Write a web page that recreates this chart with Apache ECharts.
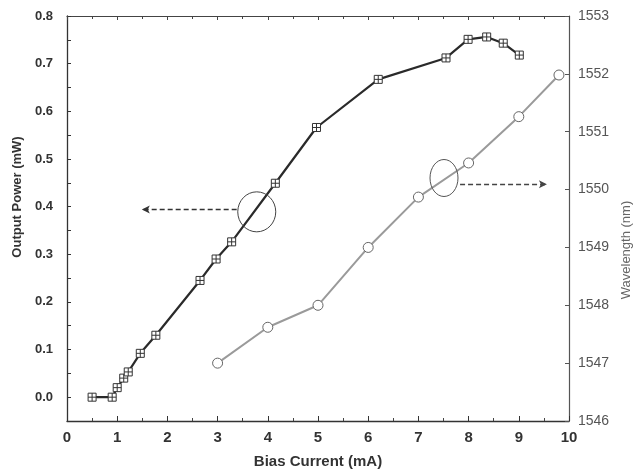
<!DOCTYPE html>
<html><head><meta charset="utf-8">
<script src="https://cdn.jsdelivr.net/npm/echarts@6/dist/echarts.min.js"></script>
<style>html,body{margin:0;padding:0;background:#fff}#c{width:639px;height:472px}</style>
</head><body><div id="c"></div>
<script>
// Output power vs bias current (left axis)
const powerCurrent = [0.5, 0.9, 1.0, 1.13, 1.22, 1.46, 1.77, 2.65, 2.97, 3.28, 4.15, 4.97, 6.2, 7.55, 7.99, 8.36, 8.69, 9.01];
const powerValues  = [0.0, 0.0, 0.02, 0.04, 0.053, 0.092, 0.13, 0.245, 0.29, 0.326, 0.449, 0.566, 0.667, 0.712, 0.751, 0.756, 0.743, 0.718];
// Wavelength vs bias current (right axis)
const wlCurrent = [3, 4, 5, 6, 7, 8, 9, 9.8];
const wlValues  = [1547.0, 1547.62, 1548.0, 1549.0, 1549.87, 1550.46, 1551.26, 1551.98];
// Axis settings
const xTicks = [0,1,2,3,4,5,6,7,8,9,10];
const leftTickLabels = ['0.0','0.1','0.2','0.3','0.4','0.5','0.6','0.7','0.8'];
const rightTickLabels = ['1546','1547','1548','1549','1550','1551','1552','1553'];
// Annotations (data coordinates)
const powerArrow = [[3.38, 0.394], [1.49, 0.394]];
const wlArrow = [[7.83, 1550.09], [9.56, 1550.09]];
const powerEllipseCenter = [3.78, 0.389];
const wlEllipseCenter = [7.51, 1550.2];

const font = '"Liberation Sans", Arial, sans-serif';
const chart = echarts.init(document.getElementById('c'), null, {renderer: 'canvas'});

function pairs(xs, ys) { return xs.map((x, i) => [x, ys[i]]); }
const squareCross = 'path://M0,0L10,0L10,10L0,10Z M5,0L5,10 M0,5L10,5';

const option = {
  backgroundColor: '#fff',
  animation: false,
  grid: {left: 67, right: 70, top: 16, bottom: 51, containLabel: false, outerBoundsMode: 'none'},
  xAxis: [{
    type: 'value', min: 0, max: 10, interval: 1,
    name: 'Bias Current (mA)', nameLocation: 'middle', nameGap: 33,
    nameTextStyle: {fontFamily: font, fontWeight: 'bold', fontSize: 15, color: '#333'},
    axisLine: {show: true, onZero: false, lineStyle: {color: '#333', width: 1.3}},
    axisTick: {show: true, inside: true, length: 5, lineStyle: {color: '#333'}},
    minorTick: {show: true, splitNumber: 2, length: 3, lineStyle: {color: '#444'}},
    splitLine: {show: false},
    axisLabel: {margin: 9, fontFamily: font, fontWeight: 'bold', fontSize: 15, color: '#333',
      formatter: v => xTicks.includes(v) ? String(v) : ''}
  }, {
    type: 'value', min: 0, max: 10, interval: 1, position: 'top',
    axisLine: {show: true, onZero: false, lineStyle: {color: '#444', width: 1.2}},
    axisTick: {show: true, inside: true, length: 4, lineStyle: {color: '#444'}},
    minorTick: {show: true, splitNumber: 2, length: 3, lineStyle: {color: '#444'}},
    splitLine: {show: false}, axisLabel: {show: false}
  }],
  yAxis: [{
    type: 'value', min: -0.05, max: 0.8, interval: 0.05, position: 'left',
    axisLine: {show: true, onZero: false, lineStyle: {color: '#333', width: 1.3}},
    axisTick: {show: true, inside: true, length: 4, lineStyle: {color: '#333'}},
    splitLine: {show: false},
    axisLabel: {margin: 14, fontFamily: font, fontWeight: 'bold', fontSize: 13, color: '#333',
      formatter: v => { const r = Math.round(v * 100); if (r < 0 || r % 10 !== 0) return ''; const s = (r / 100).toFixed(1); return leftTickLabels.includes(s) ? s : ''; }}
  }, {
    type: 'value', min: 1546, max: 1553, interval: 1, position: 'right', alignTicks: false,
    axisLine: {show: true, onZero: false, lineStyle: {color: '#555', width: 1.2}},
    axisTick: {show: true, inside: true, length: 4, lineStyle: {color: '#555'}},
    splitLine: {show: false},
    axisLabel: {margin: 9, fontFamily: font, fontSize: 14, color: '#555',
      formatter: v => rightTickLabels.includes(String(v)) ? String(v) : ''}
  }],
  series: [{
    name: 'Output Power', type: 'line', xAxisIndex: 0, yAxisIndex: 0,
    data: pairs(powerCurrent, powerValues),
    symbol: squareCross, symbolSize: 8,
    lineStyle: {color: '#2a2a2a', width: 2.2},
    itemStyle: {color: '#fff', borderColor: '#333', borderWidth: 1},
    z: 3,
    markLine: {silent: true, symbol: ['none', 'arrow'], symbolSize: [6, 8],
      lineStyle: {type: [5, 3], color: '#333', width: 1.3}, label: {show: false},
      data: [[{coord: powerArrow[0]}, {coord: powerArrow[1]}]]}
  }, {
    name: 'Wavelength', type: 'line', xAxisIndex: 0, yAxisIndex: 1,
    data: pairs(wlCurrent, wlValues),
    symbol: 'circle', symbolSize: 10,
    lineStyle: {color: '#9a9a9a', width: 2},
    itemStyle: {color: '#fff', borderColor: '#666', borderWidth: 1},
    z: 3,
    markLine: {silent: true, symbol: ['none', 'arrow'], symbolSize: [6, 8],
      lineStyle: {type: [5, 3], color: '#444', width: 1.3}, label: {show: false},
      data: [[{coord: wlArrow[0]}, {coord: wlArrow[1]}]]}
  }]
};
chart.setOption(option);

const p1 = chart.convertToPixel({xAxisIndex: 0, yAxisIndex: 0}, powerEllipseCenter);
const p2 = chart.convertToPixel({xAxisIndex: 0, yAxisIndex: 1}, wlEllipseCenter);
chart.setOption({
  graphic: [
    {type: 'ellipse', shape: {cx: p1[0], cy: p1[1], rx: 19, ry: 20}, style: {fill: 'none', stroke: '#444', lineWidth: 1}, z: 10},
    {type: 'ellipse', shape: {cx: p2[0], cy: p2[1], rx: 14, ry: 18.5}, style: {fill: 'none', stroke: '#555', lineWidth: 1}, z: 10},
    {type: 'text', x: 17, y: 197, rotation: Math.PI / 2,
      style: {text: 'Output Power (mW)', font: 'bold 13px ' + font, fill: '#333', align: 'center', verticalAlign: 'middle'}},
    {type: 'text', x: 626, y: 250, rotation: Math.PI / 2,
      style: {text: 'Wavelength (nm)', font: '13px ' + font, fill: '#666', align: 'center', verticalAlign: 'middle'}}
  ]
});
</script></body></html>
